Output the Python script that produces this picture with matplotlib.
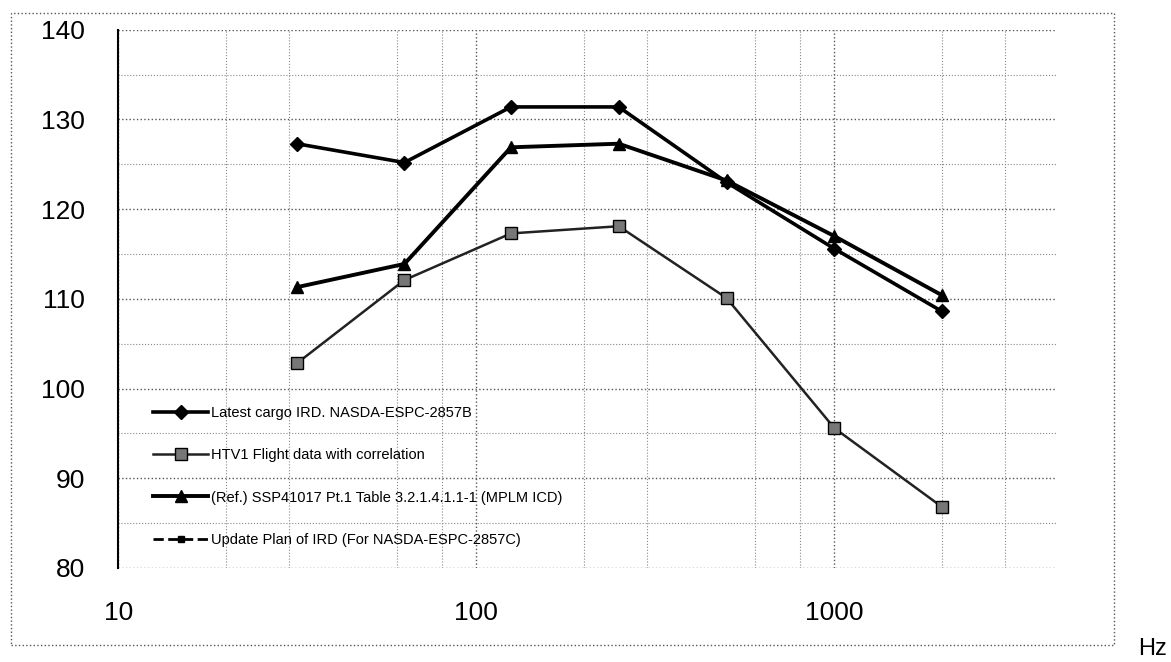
import numpy as np
import matplotlib
matplotlib.use('Agg')
import matplotlib.pyplot as plt
from matplotlib.patches import Rectangle
from matplotlib.ticker import LogLocator, MultipleLocator, FixedLocator, NullFormatter

plt.rcParams['font.family'] = ['Liberation Sans', 'DejaVu Sans']

# octave band centre frequencies (Hz)
freq = [31.5, 63, 125, 250, 500, 1000, 2000]

latest_ird = [127.3, 125.2, 131.4, 131.4, 123.0, 115.6, 108.6]
htv1_flight = [102.8, 112.1, 117.3, 118.1, 110.1, 95.6, 86.8]
ssp41017 = [111.3, 113.9, 126.9, 127.3, 123.2, 117.0, 110.4]
update_plan = []  # only appears in the legend

labels = [
    'Latest cargo IRD. NASDA-ESPC-2857B',
    'HTV1 Flight data with correlation',
    '(Ref.) SSP41017 Pt.1 Table 3.2.1.4.1.1-1 (MPLM ICD)',
    'Update Plan of IRD (For NASDA-ESPC-2857C)',
]

fig = plt.figure(figsize=(11.71, 6.62), dpi=100)
ax = fig.add_axes([0.101, 0.142, 0.802, 0.813])

ax.plot(freq, latest_ird, color='black', lw=2.6, marker='D', ms=7, label=labels[0])
ax.plot(freq, htv1_flight, color='#222222', lw=1.8, marker='s', ms=8,
        mfc='#777777', mec='black', label=labels[1])
ax.plot(freq, ssp41017, color='black', lw=2.8, marker='^', ms=9, label=labels[2])
ax.plot(update_plan, update_plan, color='black', lw=2, ls='--', marker='s', ms=5,
        label=labels[3])

ax.set_xscale('log')
ax.set_xlim(10, 4200)
ax.set_ylim(80, 140)

ax.xaxis.set_major_locator(FixedLocator([10, 100, 1000]))
ax.xaxis.set_major_formatter(plt.FuncFormatter(lambda v, p: f'{int(v)}'))
ax.xaxis.set_minor_locator(LogLocator(base=10, subs=(2, 3, 6, 8)))
ax.xaxis.set_minor_formatter(NullFormatter())
ax.yaxis.set_major_locator(MultipleLocator(10))
ax.yaxis.set_minor_locator(MultipleLocator(5))

ax.grid(which='major', color='#555555', ls=':', lw=1.0)
ax.grid(which='minor', color='#888888', ls=':', lw=0.8)

ax.tick_params(which='both', length=0, labelsize=19, colors='black')
ax.tick_params(axis='y', pad=24)
ax.tick_params(axis='x', pad=24)

for side in ['top', 'right', 'bottom']:
    ax.spines[side].set_visible(False)
ax.spines['left'].set_linewidth(1.5)

ax.legend(loc='lower left', bbox_to_anchor=(0.037, 0.039), frameon=False,
          borderaxespad=0, borderpad=0,
          fontsize=10.5, handlelength=3.8, handletextpad=0.2, labelspacing=1.95)

# dotted outer frame of the scanned chart
fig.patches.append(Rectangle((0.009, 0.026), 0.942, 0.955, transform=fig.transFigure,
                             fill=False, ls=':', lw=1.0, ec='#555555'))

fig.text(0.984, 0.003, 'Hz', fontsize=17, ha='center', va='bottom')

fig.savefig('out.png', dpi=100)
